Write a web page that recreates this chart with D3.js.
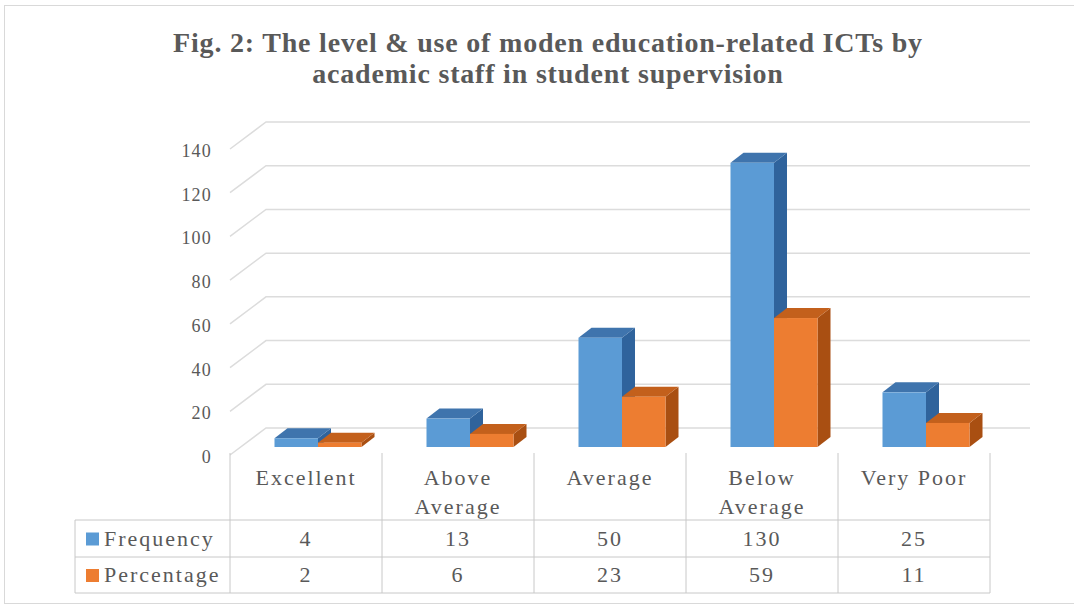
<!DOCTYPE html>
<html>
<head>
<meta charset="utf-8">
<script src="https://cdn.jsdelivr.net/npm/d3@7"></script>
<style>
  body { margin: 0; background: #fff; }
  svg { display: block; font-family: "Liberation Serif", "Times New Roman", serif; }
</style>
</head>
<body>
<svg width="1074" height="605"></svg>
<script>
var categories = ['Excellent', 'Above Average', 'Average', 'Below Average', 'Very Poor'];
var categoryLines = [['Excellent'], ['Above', 'Average'], ['Average'], ['Below', 'Average'], ['Very Poor']];
var seriesNames = ['Frequency', 'Percentage'];
var frequency = [4, 13, 50, 130, 25];
var percentage = [2, 6, 23, 59, 11];
var yTicks = [0, 20, 40, 60, 80, 100, 120, 140];
var titleLines = ['Fig. 2: The level & use of moden education-related ICTs by',
                  'academic staff in student supervision'];

var colors = {
  Frequency: { front: '#5b9bd5', top: '#3f74ad', side: '#2f639c' },
  Percentage: { front: '#ed7d31', top: '#c3601c', side: '#a94f12' }
};

var svg = d3.select('svg');
var textColor = '#595959';
var gridColor = '#dcdcdc';

// chart border
svg.append('rect')
  .attr('x', 4.5).attr('y', 5.5)
  .attr('width', 1070).attr('height', 598)
  .attr('fill', 'none').attr('stroke', '#d9d9d9');

// title
svg.selectAll('.title')
  .data(titleLines)
  .enter().append('text')
  .attr('class', 'title')
  .attr('x', 548)
  .attr('y', function(d, i) { return 52 + i * 31; })
  .attr('text-anchor', 'middle')
  .attr('font-size', 28)
  .attr('font-weight', 'bold')
  .attr('letter-spacing', 0.8)
  .attr('fill', textColor)
  .text(function(d) { return d; });

// scales
var y = d3.scaleLinear().domain([0, 140]).range([447, 141]);
var x = d3.scaleBand().domain(categories).range([230, 990]);
var depth = { dx: 13, dy: -10 };   // bar depth offset
var backOff = -19, frontOff = 8;    // wall planes relative to bar plane
var backLeft = 266, backRight = 1030, frontLeft = 230;
var barW = 43.5, barShift = 12;

// side wall diagonals + back wall gridlines
var grid = svg.append('g').attr('fill', 'none').attr('stroke', gridColor).attr('stroke-width', 1.5);
yTicks.forEach(function(t) {
  grid.append('path')
    .attr('d', 'M' + frontLeft + ',' + (y(t) + frontOff) +
               'L' + backLeft + ',' + (y(t) + backOff) +
               'L' + backRight + ',' + (y(t) + backOff));
});

// y tick labels
svg.selectAll('.ytick')
  .data(yTicks)
  .enter().append('text')
  .attr('class', 'ytick')
  .attr('x', 212)
  .attr('y', function(d) { return y(d) + frontOff + 8; })
  .attr('text-anchor', 'end')
  .attr('font-size', 18)
  .attr('letter-spacing', 1.2)
  .attr('fill', textColor)
  .text(function(d) { return d; });

// bars
var bars = [];
categories.forEach(function(c, i) {
  bars.push({ cat: c, series: 'Frequency', value: frequency[i], k: 0 });
  bars.push({ cat: c, series: 'Percentage', value: percentage[i], k: 1 });
});

var barG = svg.selectAll('.bar')
  .data(bars)
  .enter().append('g')
  .attr('class', 'bar');

function x0(d) { return x(d.cat) + x.bandwidth() / 2 + barShift - barW + d.k * barW; }

barG.append('path')
  .attr('fill', function(d) { return colors[d.series].side; })
  .attr('d', function(d) {
    var l = x0(d) + barW, t = y(d.value), b = y(0);
    return 'M' + l + ',' + t + 'L' + (l + depth.dx) + ',' + (t + depth.dy) +
           'L' + (l + depth.dx) + ',' + (b + depth.dy) + 'L' + l + ',' + b + 'Z';
  });
barG.append('path')
  .attr('fill', function(d) { return colors[d.series].top; })
  .attr('d', function(d) {
    var l = x0(d), t = y(d.value);
    return 'M' + l + ',' + t + 'L' + (l + depth.dx) + ',' + (t + depth.dy) +
           'L' + (l + barW + depth.dx) + ',' + (t + depth.dy) + 'L' + (l + barW) + ',' + t + 'Z';
  });
barG.append('rect')
  .attr('x', x0)
  .attr('y', function(d) { return y(d.value); })
  .attr('width', barW)
  .attr('height', function(d) { return y(0) - y(d.value); })
  .attr('fill', function(d) { return colors[d.series].front; });

// data table
var tableTop = 453, headBottom = 520, row1Bottom = 557, row2Bottom = 593, tableLeft = 75;
var tbl = svg.append('g').attr('stroke', '#c8c8c8').attr('stroke-width', 1);
[headBottom, row1Bottom, row2Bottom].forEach(function(yy) {
  tbl.append('line').attr('x1', tableLeft).attr('x2', 990).attr('y1', yy).attr('y2', yy);
});
tbl.append('line').attr('x1', tableLeft).attr('x2', tableLeft).attr('y1', headBottom).attr('y2', row2Bottom);
categories.concat(['end']).forEach(function(c, i) {
  var xx = 230 + i * x.step();
  tbl.append('line').attr('x1', xx).attr('x2', xx).attr('y1', tableTop).attr('y2', row2Bottom);
});

// header labels
categories.forEach(function(c, i) {
  var lines = categoryLines[i];
  svg.append('text')
    .attr('x', x(c) + x.bandwidth() / 2)
    .attr('text-anchor', 'middle')
    .attr('font-size', 22)
    .attr('letter-spacing', 2)
    .attr('fill', textColor)
    .selectAll('tspan')
    .data(lines)
    .enter().append('tspan')
    .attr('x', x(c) + x.bandwidth() / 2)
    .attr('y', function(d, j) { return 485 + j * 29; })
    .text(function(d) { return d; });
});

// rows
var rows = [
  { name: seriesNames[0], values: frequency, mid: (headBottom + row1Bottom) / 2 },
  { name: seriesNames[1], values: percentage, mid: (row1Bottom + row2Bottom) / 2 }
];
rows.forEach(function(r) {
  svg.append('rect')
    .attr('x', 86).attr('y', r.mid - 6)
    .attr('width', 13).attr('height', 13)
    .attr('fill', colors[r.name].front);
  svg.append('text')
    .attr('x', 104).attr('y', r.mid + 7)
    .attr('font-size', 22)
    .attr('letter-spacing', 2)
    .attr('fill', textColor)
    .text(r.name);
  svg.selectAll(null)
    .data(r.values)
    .enter().append('text')
    .attr('x', function(d, i) { return x(categories[i]) + x.bandwidth() / 2; })
    .attr('y', r.mid + 7)
    .attr('text-anchor', 'middle')
    .attr('font-size', 22)
    .attr('letter-spacing', 2)
    .attr('fill', textColor)
    .text(function(d) { return d; });
});
</script>
</body>
</html>
